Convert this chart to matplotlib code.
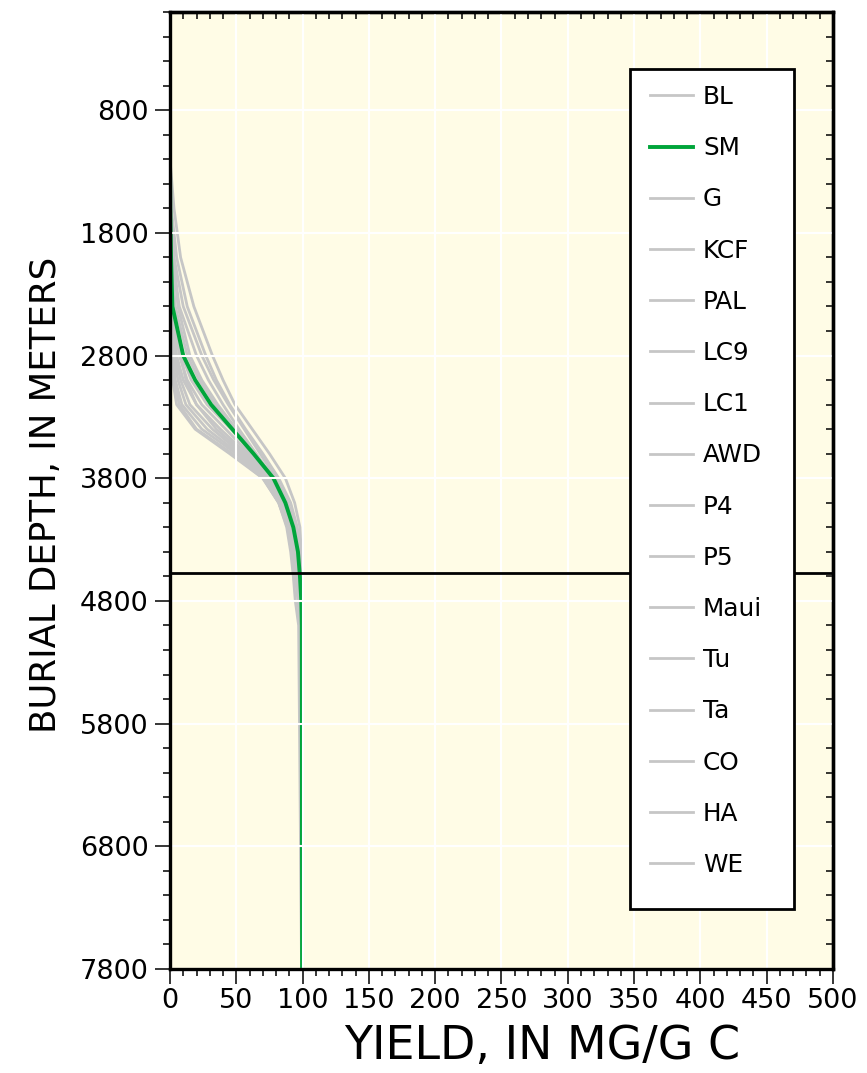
import matplotlib
matplotlib.use("Agg")
import matplotlib.pyplot as plt
from matplotlib.patches import Rectangle
from matplotlib.ticker import MultipleLocator, FixedLocator

plt.rcParams['font.family'] = ['DejaVu Sans']

# ---------------- data ----------------
depth = [0, 1200, 1600, 2000, 2400, 2800, 3000, 3200, 3400, 3600,
         3800, 4000, 4200, 4400, 4600, 4800, 5000, 7800]

yield_BL = [0, 0, 3, 8, 18, 32, 40, 49, 62, 75, 87, 94, 98, 99, 99.5, 99.5, 99.5, 99.6]
yield_SM = [0, 0, 0.2, 0.8, 1.8, 10, 19, 31, 47, 63, 78, 87, 93, 96.5, 98, 99, 99.4, 99.6]
yield_G = [0, 0, 1, 5, 13, 27, 35, 45, 57, 70, 82, 91, 96, 98.5, 99.3, 99.5, 99.5, 99.6]
yield_KCF = [0, 0, 0.5, 3, 10, 24, 33, 44, 56, 68, 80, 89, 95, 98, 99, 99.4, 99.5, 99.6]
yield_PAL = [0, 0, 0.2, 2, 7, 20, 29, 40, 52, 65, 78, 88, 94, 97.5, 99, 99.3, 99.5, 99.6]
yield_LC9 = [0, 0, 0.5, 2.5, 6, 15, 24, 36, 50, 64, 77, 87, 93, 97, 98.5, 99.2, 99.5, 99.6]
yield_LC1 = [0, 0, 0, 1, 4, 13, 22, 34, 49, 63, 76, 86, 93, 96.5, 98.3, 99, 99.3, 99.6]
yield_AWD = [0, 0, 0, 0.5, 2.5, 9, 16, 28, 46, 62, 76, 86, 92, 96, 98, 99, 99.3, 99.6]
yield_P4 = [0, 0, 0, 0.3, 2, 7, 13, 24, 42, 60, 75, 85, 92, 96, 98, 99, 99.3, 99.5]
yield_P5 = [0, 0, 0, 0.2, 1.5, 5, 10, 20, 38, 58, 74, 85, 91, 95, 97.5, 98.7, 99.2, 99.5]
yield_Maui = [0, 0, 0, 0.5, 3, 8, 12, 20, 35, 56, 73, 84, 91, 95, 97.5, 98.5, 99, 99.5]
yield_Tu = [0, 0, 0, 0, 1, 4, 8, 15, 32, 54, 72, 84, 90, 94, 97, 98.5, 99, 99.4]
yield_Ta = [0, 0, 0, 0, 0.5, 3, 6, 12, 28, 52, 72, 83, 90, 93.5, 96, 98, 99, 99.4]
yield_CO = [0, 0, 0, 0, 0.5, 2, 4, 9, 24, 50, 71, 82, 89, 93, 95.5, 97.5, 98.5, 99.4]
yield_HA = [0, 0, 0, 0, 0.2, 1.5, 3, 7, 20, 47, 70, 82, 88.5, 92, 94.5, 96.5, 98, 99.3]
yield_WE = [0, 0, 0, 0, 0, 0.5, 2, 5, 19, 45, 70, 82, 88, 91, 93, 94.5, 97, 99.2]

labels = ['BL', 'SM', 'G', 'KCF', 'PAL', 'LC9', 'LC1', 'AWD', 'P4', 'P5',
          'Maui', 'Tu', 'Ta', 'CO', 'HA', 'WE']
series = [yield_BL, yield_SM, yield_G, yield_KCF, yield_PAL, yield_LC9, yield_LC1,
          yield_AWD, yield_P4, yield_P5, yield_Maui, yield_Tu, yield_Ta, yield_CO,
          yield_HA, yield_WE]
highlight = 'SM'
reference_depth = 4575

x_ticks = [0, 50, 100, 150, 200, 250, 300, 350, 400, 450, 500]
y_ticks = [800, 1800, 2800, 3800, 4800, 5800, 6800, 7800]

# ---------------- figure ----------------
W, H = 867, 1073
fig = plt.figure(figsize=(W / 100, H / 100), dpi=100)
ax = fig.add_axes([170 / W, 1 - 969 / H, (833 - 170) / W, (969 - 12) / H])
bg = '#FFFCE6'
ax.set_facecolor(bg)

handles = []
for lab, vals in zip(labels, series):
    if lab == highlight:
        h, = ax.plot(vals, depth, color='#00A53A', lw=2.8, zorder=2.2,
                     solid_joinstyle='round', label=lab)
    else:
        h, = ax.plot(vals, depth, color='#C6C6C6', lw=2.0, zorder=2,
                     solid_joinstyle='round', label=lab)
    handles.append(h)

ax.axhline(reference_depth, color='black', lw=2.0, zorder=3)

ax.set_xlim(0, 500)
ax.set_ylim(7800, 0)

ax.xaxis.set_major_locator(FixedLocator(x_ticks))
ax.xaxis.set_minor_locator(MultipleLocator(10))
ax.yaxis.set_major_locator(FixedLocator(y_ticks))
ax.yaxis.set_minor_locator(MultipleLocator(200))

ax.set_axisbelow(False)
ax.grid(True, which='major', color='white', lw=1.5)

for sp in ax.spines.values():
    sp.set_linewidth(2.4)
    sp.set_zorder(6)

ax.tick_params(axis='both', which='major', direction='out', length=10.5, width=1.1,
               labelsize=19.5, colors='black')
ax.tick_params(axis='both', which='minor', direction='out', length=5, width=1.1)
ax.tick_params(axis='x', which='major', pad=3)
ax.tick_params(axis='y', which='major', pad=5)

# inward ticks on top and right
secx = ax.secondary_xaxis('top')
secx.xaxis.set_major_locator(FixedLocator(x_ticks))
secx.xaxis.set_minor_locator(MultipleLocator(10))
secx.tick_params(which='major', direction='in', length=11, width=1.1, labeltop=False)
secx.tick_params(which='minor', direction='in', length=5, width=1.1)
secx.spines['top'].set_linewidth(2.4)

secy = ax.secondary_yaxis('right')
secy.yaxis.set_major_locator(FixedLocator(y_ticks))
secy.yaxis.set_minor_locator(MultipleLocator(200))
secy.tick_params(which='major', direction='in', length=11, width=1.1, labelright=False)
secy.tick_params(which='minor', direction='in', length=5, width=1.1)
secy.spines['right'].set_linewidth(2.4)

ax.set_xlabel('YIELD, IN MG/G C', fontsize=33)
ax.xaxis.set_label_coords((542 - 170) / 663, -(1046 - 969) / 957)
ax.xaxis.label.set_verticalalignment('center')
ax.set_ylabel('BURIAL DEPTH, IN METERS', fontsize=25.6)
ax.yaxis.set_label_coords(-(170 - 46) / 663, (969 - 495) / 957)
ax.yaxis.label.set_verticalalignment('center')

# legend frame
rect = Rectangle((630 / W, 1 - 909 / H), (794 - 630) / W, (909 - 69) / H,
                 transform=fig.transFigure, facecolor='white', edgecolor='black',
                 lw=2.0, zorder=4)
ax.add_patch(rect)

leg = ax.legend(handles=handles, labels=labels, loc='upper left',
                bbox_to_anchor=(650 / W, 1 - 85 / H), bbox_transform=fig.transFigure,
                frameon=False, fontsize=17.8, borderpad=0, borderaxespad=0,
                handlelength=1.74, handletextpad=0.4, labelspacing=1.1)
leg.set_zorder(5)

fig.savefig('out.png', dpi=100)
